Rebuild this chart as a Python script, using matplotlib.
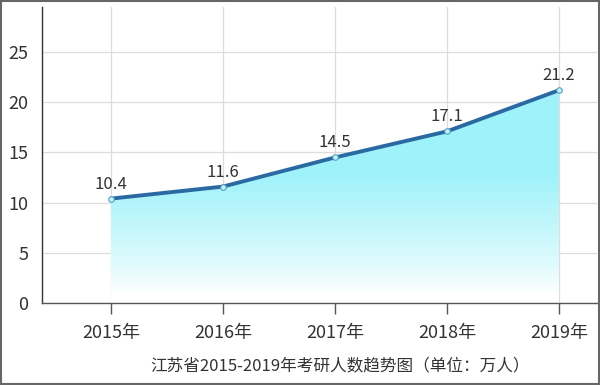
import matplotlib.pyplot as plt
import numpy as np
from matplotlib.patches import Rectangle, Polygon

plt.rcParams['font.family'] = ['Noto Sans CJK SC', 'DejaVu Sans']

# data
years = ['2015年', '2016年', '2017年', '2018年', '2019年']
applicants = [10.4, 11.6, 14.5, 17.1, 21.2]
title = '江苏省2015-2019年考研人数趋势图（单位：万人）'

line_color = '#2b69a2'
fill_color = np.array([0.62, 0.95, 0.98])
text_color = '#333333'

fig = plt.figure(figsize=(6, 3.85), dpi=100)
ax = fig.add_axes([0.07, 0.213, 0.925, 0.769])

x = np.arange(len(years))

# gradient fill under the line
ymax = 29.5
grad_y = np.linspace(0, ymax, 300)
t = np.clip((grad_y - 1.0) / 12.0, 0, 1) ** 0.8
img = np.ones((len(grad_y), 2, 3))
for c in range(3):
    img[:, :, c] = (1 - t[:, None]) * 1.0 + t[:, None] * fill_color[c]
im = ax.imshow(img, extent=(x[0], x[-1], 0, ymax), origin='lower',
               aspect='auto', zorder=1, interpolation='bilinear')
verts = [(x[0], 0)] + list(zip(x, applicants)) + [(x[-1], 0)]
clip = Polygon(verts, closed=True, transform=ax.transData, facecolor='none',
               edgecolor='none')
ax.add_patch(clip)
im.set_clip_path(clip)

ax.plot(x, applicants, color=line_color, linewidth=2.8, zorder=3,
        solid_capstyle='round')
ax.plot(x, applicants, linestyle='none', marker='o', markersize=4,
        markerfacecolor='#bff5f8', markeredgecolor='#5a9cc8',
        markeredgewidth=0.8, zorder=4)

for xi, v in zip(x, applicants):
    ax.text(xi, v + 0.6, f'{v}', ha='center', va='bottom', fontsize=12,
            color=text_color, zorder=5)

ax.set_xlim(-0.616, 4.34)
ax.set_ylim(0, ymax)
ax.set_yticks([0, 5, 10, 15, 20, 25])
ax.set_xticks(x)
ax.set_xticklabels(years)

ax.grid(True, color='#dddddd', linewidth=0.9, zorder=0)
ax.set_axisbelow(True)

for s in ['top', 'right']:
    ax.spines[s].set_visible(False)
ax.spines['left'].set_color('#333333')
ax.spines['left'].set_linewidth(1.0)
ax.spines['bottom'].set_color('#555555')
ax.spines['bottom'].set_linewidth(1.0)

ax.tick_params(axis='y', length=0, pad=10, labelsize=13, labelcolor=text_color)
ax.tick_params(axis='x', length=8, width=1, color='#555555', pad=7,
               labelsize=13, labelcolor=text_color)

fig.text(0.567, 0.05, title, ha='center', va='center', fontsize=12,
         color=text_color)

fig.patches.append(Rectangle((0.002, 0.003), 0.996, 0.994,
                             transform=fig.transFigure, fill=False,
                             edgecolor='#666666', linewidth=1.5))

fig.savefig('out.png', dpi=100)
